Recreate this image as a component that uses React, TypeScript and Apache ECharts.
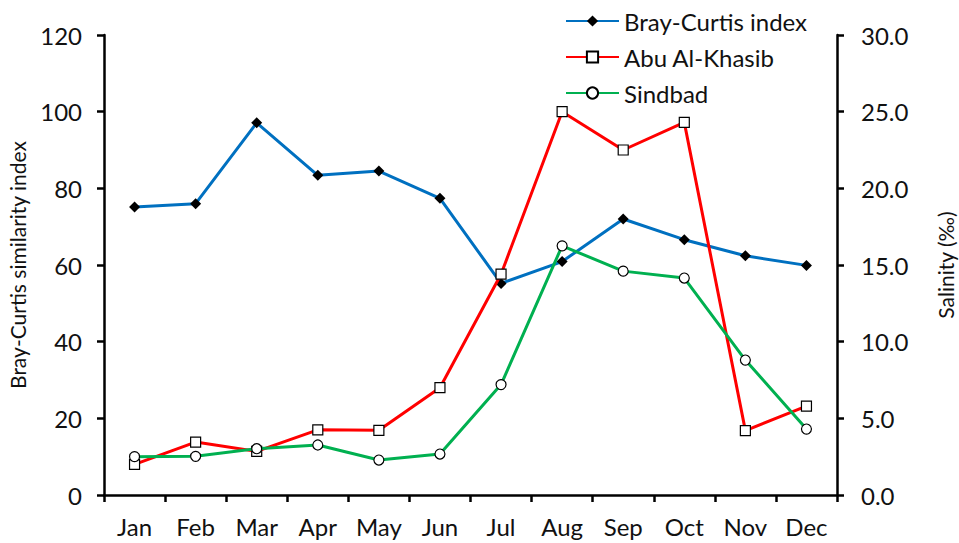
import React, { useEffect, useRef } from "react";
import * as echarts from "echarts";

const months = ["Jan", "Feb", "Mar", "Apr", "May", "Jun", "Jul", "Aug", "Sep", "Oct", "Nov", "Dec"];
const brayCurtis = [75.1, 76.0, 97.1, 83.4, 84.5, 77.4, 55.2, 60.9, 72.0, 66.6, 62.4, 59.9];
const abuAlKhasib = [2.0, 3.45, 2.85, 4.25, 4.22, 7.0, 14.4, 25.0, 22.5, 24.3, 4.2, 5.8];
const sindbad = [2.5, 2.52, 3.02, 3.26, 2.28, 2.67, 7.2, 16.25, 14.6, 14.15, 8.8, 4.3];
const leftTicks = { min: 0, max: 120, interval: 20 };
const rightTicks = { min: 0, max: 30, interval: 5 };

const FONT = "Lato";

export default function App() {
  const ref = useRef<HTMLDivElement>(null);
  useEffect(() => {
    if (!ref.current) return;
    document.body.style.margin = "0";
    const chart = echarts.init(ref.current, null, { renderer: "svg" });
    const axisLine = { show: true, lineStyle: { color: "#000", width: 2.5 } };
    const axisTick = { show: true, length: 7, lineStyle: { color: "#000", width: 2.5 } };
    const labelStyle = { color: "#111", fontSize: 24, fontFamily: FONT };
    chart.setOption({
      animation: false,
      backgroundColor: "#fff",
      grid: { left: 104, right: 122, top: 35, bottom: 48, containLabel: false, outerBoundsMode: "none" },
      legend: {
        orient: "vertical",
        left: 560,
        top: 4,
        itemWidth: 53,
        itemHeight: 14,
        itemGap: 12,
        textStyle: { fontSize: 24, fontFamily: FONT, color: "#111", lineHeight: 21 },
        data: ["Bray-Curtis index", "Abu Al-Khasib", "Sindbad"],
      },
      xAxis: {
        type: "category",
        data: months,
        boundaryGap: true,
        axisLine,
        axisTick: { ...axisTick, alignWithLabel: false },
        axisLabel: { ...labelStyle, margin: 19 },
        splitLine: { show: false },
      },
      yAxis: [
        {
          type: "value",
          ...leftTicks,
          position: "left",
          name: "Bray-Curtis similarity index",
          nameLocation: "middle",
          nameRotate: 90,
          nameGap: 76,
          nameTextStyle: { fontSize: 21, fontFamily: FONT, color: "#111" },
          axisLine,
          axisTick,
          axisLabel: { ...labelStyle, margin: 22 },
          splitLine: { show: false },
        },
        {
          type: "value",
          ...rightTicks,
          position: "right",
          name: "Salinity (‰)",
          nameLocation: "middle",
          nameRotate: 90,
          nameGap: 98,
          nameTextStyle: { fontSize: 21, fontFamily: FONT, color: "#111" },
          axisLine,
          axisTick,
          axisLabel: { ...labelStyle, margin: 24, formatter: (v: number) => v.toFixed(1) },
          splitLine: { show: false },
        },
      ],
      series: [
        {
          name: "Bray-Curtis index",
          type: "line",
          yAxisIndex: 0,
          data: brayCurtis,
          lineStyle: { color: "#0070C0", width: 3 },
          itemStyle: { color: "#000", borderColor: "#000", borderWidth: 0 },
          symbol: "diamond",
          symbolSize: 11,
          z: 3,
        },
        {
          name: "Abu Al-Khasib",
          type: "line",
          yAxisIndex: 1,
          data: abuAlKhasib,
          lineStyle: { color: "#FF0000", width: 3 },
          itemStyle: { color: "#fff", borderColor: "#000", borderWidth: 1.2 },
          symbol: "rect",
          symbolSize: 10,
          z: 4,
        },
        {
          name: "Sindbad",
          type: "line",
          yAxisIndex: 1,
          data: sindbad,
          lineStyle: { color: "#00B050", width: 3 },
          itemStyle: { color: "#fff", borderColor: "#000", borderWidth: 1.2 },
          symbol: "circle",
          symbolSize: 10,
          z: 5,
        },
      ],
    });
    return () => chart.dispose();
  }, []);
  return <div ref={ref} style={{ width: 959, height: 543 }} />;
}
